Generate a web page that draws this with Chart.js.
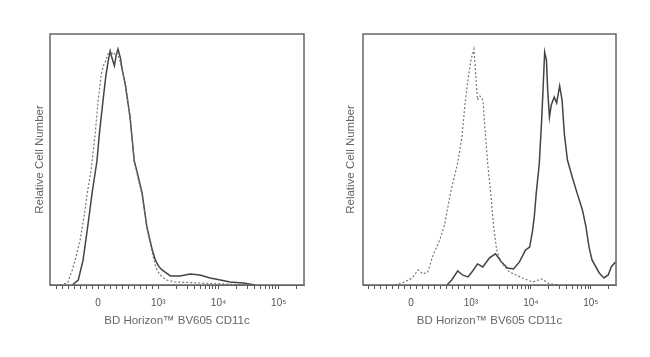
<!DOCTYPE html>
<html>
<head>
<meta charset="utf-8">
<script src="https://cdn.jsdelivr.net/npm/chart.js@4"></script>
<style>
  html, body { margin: 0; padding: 0; background: #fff; }
  #wrap { position: relative; width: 650px; height: 357px; }
  .panel { position: absolute; top: 0; width: 325px; height: 357px; }
</style>
</head>
<body>
<div id="wrap">
  <div class="panel" style="left:0"><canvas id="leftChart"></canvas></div>
  <div class="panel" style="left:325px"><canvas id="rightChart"></canvas></div>
</div>
<script>
// x is in display decades: 0 -> "0", 1 -> 10^3, 2 -> 10^4, 3 -> 10^5
const xMin = -0.8, xMax = 3.42;
const tickValues = [0, 1, 2, 3];
const tickLabels = ['0', '10³', '10⁴', '10⁵'];
const axisTitle = 'BD Horizon™ BV605 CD11c';
const yTitle = 'Relative Cell Number';

// left panel: unstained (dashed) vs stained (solid)
const leftSolidX = [-0.43, -0.33, -0.25, -0.17, -0.10, -0.02, 0.02, 0.08, 0.13, 0.17, 0.20, 0.23, 0.27, 0.30, 0.33, 0.37, 0.40, 0.45, 0.53, 0.60, 0.66, 0.73, 0.81, 0.90, 0.95, 1.00, 1.06, 1.13, 1.20, 1.36, 1.53, 1.69, 1.86, 2.03, 2.19, 2.41, 2.61];
const leftSolidY = [0, 2.0, 10.0, 23.9, 36.7, 49.4, 60.2, 73.3, 83.7, 89.6, 93.2, 90.4, 87.3, 91.6, 94.0, 90.4, 85.7, 80.1, 66.9, 49.4, 43.8, 36.7, 23.1, 13.9, 10.0, 7.6, 6.0, 4.8, 3.6, 3.6, 4.4, 4.0, 2.8, 2.0, 1.2, 0.8, 0];
const leftDashX = [-0.63, -0.51, -0.43, -0.38, -0.30, -0.23, -0.18, -0.13, -0.10, -0.05, 0, 0.05, 0.08, 0.13, 0.17, 0.20, 0.25, 0.30, 0.35, 0.40, 0.45, 0.53, 0.60, 0.66, 0.73, 0.81, 0.90, 0.96, 1.03, 1.13, 1.28, 1.69, 2.11, 2.44];
const leftDashY = [0, 0.8, 6.0, 10.0, 17.9, 27.9, 36.7, 43.8, 49.4, 60.2, 73.3, 83.7, 86.9, 89.6, 92.4, 93.6, 91.6, 92.8, 90.4, 85.7, 79.7, 66.9, 49.4, 42.6, 35.9, 22.7, 12.7, 6.8, 4.0, 2.0, 1.2, 0.8, 0.4, 0];

// right panel
const rightSolidX = [0.60, 0.68, 0.78, 0.86, 0.95, 1.03, 1.11, 1.20, 1.31, 1.41, 1.51, 1.61, 1.71, 1.81, 1.91, 1.98, 2.03, 2.06, 2.09, 2.14, 2.18, 2.21, 2.23, 2.26, 2.28, 2.31, 2.34, 2.39, 2.43, 2.48, 2.52, 2.56, 2.61, 2.69, 2.77, 2.86, 2.92, 2.97, 3.02, 3.14, 3.22, 3.29, 3.34, 3.41];
const rightSolidY = [0, 2.0, 5.6, 4.0, 3.2, 5.6, 8.4, 7.2, 10.8, 12.4, 9.2, 6.8, 6.4, 9.2, 13.9, 15.1, 21.9, 27.9, 36.7, 48.2, 65.7, 81.7, 92.8, 89.6, 77.7, 66.9, 71.7, 74.9, 72.5, 79.3, 73.7, 59.8, 49.8, 43.0, 36.7, 29.9, 23.1, 15.1, 10.0, 4.8, 2.8, 4.0, 7.2, 9.2];
const rightDashX = [-0.27, -0.10, 0.02, 0.12, 0.20, 0.28, 0.37, 0.48, 0.56, 0.66, 0.73, 0.78, 0.85, 0.90, 0.95, 1.00, 1.05, 1.08, 1.11, 1.15, 1.20, 1.23, 1.28, 1.33, 1.38, 1.43, 1.51, 1.64, 1.86, 2.03, 2.18, 2.31, 2.48];
const rightDashY = [0, 1.2, 2.8, 6.0, 4.4, 5.2, 12.0, 17.9, 23.9, 36.7, 43.8, 48.6, 59.0, 71.7, 81.7, 89.6, 94.0, 83.7, 73.7, 75.3, 73.7, 63.7, 48.2, 36.7, 23.1, 13.9, 8.8, 5.2, 2.8, 1.2, 2.4, 0.4, 0];

// minor tick marks along the bottom axis
const minorTicks = [];
for (let i = -7; i <= 9; i++) {
  if (i !== 0) minorTicks.push(i / 10);
}
for (let d = 1; d <= 3; d++) {
  for (let k = 2; k <= 9; k++) {
    const v = d + Math.log10(k);
    if (v < xMax) minorTicks.push(+v.toFixed(3));
  }
}

function pts(xs, ys) {
  return xs.map((x, i) => ({ x: x, y: ys[i] }));
}

const boxPlugin = {
  id: 'box',
  afterDraw(chart) {
    const { ctx, chartArea: a } = chart;
    ctx.save();
    ctx.strokeStyle = '#666';
    ctx.lineWidth = 1.5;
    ctx.strokeRect(a.left, a.top, a.right - a.left, a.bottom - a.top);
    ctx.restore();
  }
};

const font = 'Liberation Sans, Arial, sans-serif';

function makeChart(id, solid, dashed, padLeft, yWidth, padRight) {
  return new Chart(document.getElementById(id), {
    type: 'line',
    data: {
      datasets: [
        {
          data: dashed,
          borderColor: '#777',
          borderWidth: 1.2,
          borderDash: [2, 2],
          pointRadius: 0,
          tension: 0
        },
        {
          data: solid,
          borderColor: '#444',
          borderWidth: 1.5,
          pointRadius: 0,
          tension: 0
        }
      ]
    },
    options: {
      responsive: false,
      animation: false,
      layout: { padding: { left: padLeft, top: 34, right: padRight, bottom: 22 } },
      plugins: { legend: { display: false }, tooltip: { enabled: false } },
      scales: {
        x: {
          type: 'linear',
          min: xMin,
          max: xMax,
          afterFit: s => { s.height = 50; },
          afterBuildTicks: s => {
            s.ticks = tickValues.concat(minorTicks).sort((a, b) => a - b).map(v => ({ value: v }));
          },
          grid: { drawOnChartArea: false, tickLength: 4, color: '#555', lineWidth: 1 },
          border: { color: '#555' },
          ticks: {
            autoSkip: false,
            maxRotation: 0,
            padding: 8,
            color: '#555',
            font: { family: font, size: 10 },
            callback: v => {
              const i = tickValues.indexOf(v);
              return i >= 0 ? tickLabels[i] : '';
            }
          },
          title: {
            display: true,
            text: axisTitle,
            color: '#666',
            padding: { top: 0, bottom: 7 },
            font: { family: font, size: 11.5 }
          }
        },
        y: {
          min: 0,
          max: 100,
          afterFit: s => { s.width = yWidth; },
          grid: { display: false },
          border: { display: false },
          ticks: { display: false },
          title: {
            display: true,
            text: yTitle,
            color: '#666',
            padding: { top: 3, bottom: 0 },
            font: { family: font, size: 11.5 }
          }
        }
      }
    },
    plugins: [boxPlugin]
  });
}

document.getElementById('leftChart').width = 325;
document.getElementById('leftChart').height = 357;
document.getElementById('rightChart').width = 325;
document.getElementById('rightChart').height = 357;

makeChart('leftChart', pts(leftSolidX, leftSolidY), pts(leftDashX, leftDashY), 30, 20, 21);
makeChart('rightChart', pts(rightSolidX, rightSolidY), pts(rightDashX, rightDashY), 16, 22, 34);
</script>
</body>
</html>
